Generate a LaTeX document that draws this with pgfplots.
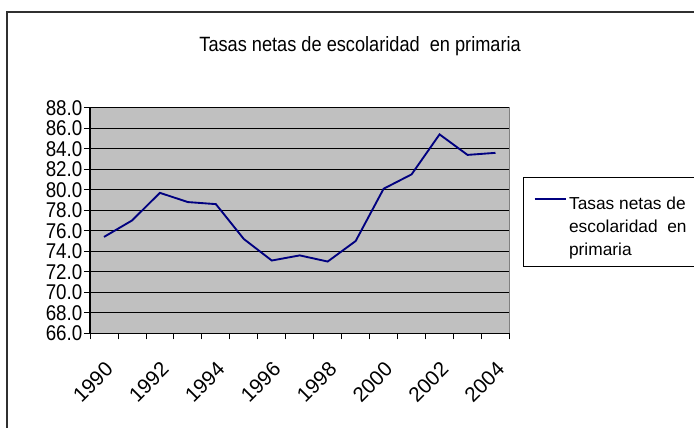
\documentclass[border=0pt]{standalone}
\usepackage{pgfplots}
\pgfplotsset{compat=1.18}
\usepackage{fontspec}
\setmainfont{Liberation Sans}
\newfontfamily\narrowfont[FakeStretch=0.88]{Liberation Sans}
\definecolor{plotgray}{HTML}{C0C0C0}
\definecolor{navyline}{HTML}{000080}
\definecolor{framegray}{HTML}{303030}
\begin{document}
\begin{tikzpicture}
\useasboundingbox (0pt,0pt) rectangle (520.5pt,321pt);
\draw[line width=1.5pt, framegray] (5.25pt,0pt) -- (5.25pt,312pt) -- (520.5pt,312pt);
\begin{axis}[
  at={(67.5pt,71pt)}, anchor=south west,
  scale only axis,
  width=314.6pt, height=169.2pt,
  xmin=-0.5, xmax=14.5, ymin=66, ymax=88,
  axis lines=left,
  axis line style={-, black, line width=0.8pt},
  axis background/.style={fill=plotgray, draw=gray, line width=0.8pt},
  ytick={66,68,...,88},
  ymajorgrids,
  grid style={black, line width=0.6pt},
  xtick={0,2,...,14},
  xticklabels={1990,1992,1994,1996,1998,2000,2002,2004},
  minor xtick={-0.5,0.5,...,14.5},
  major x tick style={draw=none},
  tick align=outside,
  major tick length=4.5pt,
  minor tick length=4.5pt,
  tick style={black, line width=0.6pt},
  /pgf/number format/assume math mode=true,
  yticklabel style={font=\narrowfont\fontsize{16}{16}\selectfont, xshift=2.25pt},
  yticklabel style={/pgf/number format/.cd, fixed, fixed zerofill, precision=1},
  xticklabel style={font=\fontsize{15.5}{16}\selectfont, yshift=-11pt, rotate=45, anchor=north east},
  title={Tasas netas de escolaridad\ \ en primaria},
  title style={at={(0.644,1.238)}, anchor=center, font=\narrowfont\fontsize{15.5}{18}\selectfont},
  legend style={at={(1.032,0.693)}, anchor=north west, draw=black, line width=0.6pt,
    fill=white, font=\fontsize{13}{17.25}\selectfont,
    cells={align=left, anchor=west}, inner xsep=8pt, inner ysep=5pt},
  legend image code/.code={\draw[#1, line width=1.1pt] (0pt,17.25pt) -- (23.25pt,17.25pt);},
]
\addplot[navyline, line width=1.4pt] table[row sep=\\] {
x y\\
0 75.4\\
1 77.0\\
2 79.7\\
3 78.8\\
4 78.6\\
5 75.2\\
6 73.1\\
7 73.6\\
8 73.0\\
9 75.0\\
10 80.1\\
11 81.5\\
12 85.4\\
13 83.4\\
14 83.6\\
};
\addlegendentry{\rule{0pt}{17pt}Tasas netas de\\escolaridad\ \ en\\primaria}
\end{axis}
\end{tikzpicture}
\end{document}
